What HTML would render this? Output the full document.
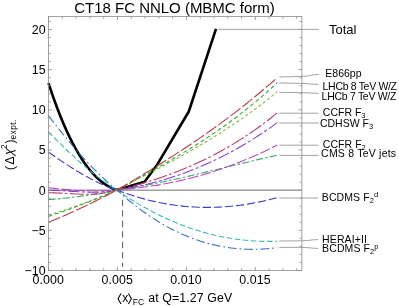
<!DOCTYPE html>
<html><head><meta charset="utf-8"><title>CT18 FC NNLO</title>
<style>
html,body{margin:0;padding:0;background:#fff;}
body{width:399px;height:306px;overflow:hidden;}
svg{display:block;will-change:transform;}
svg text{font-family:"Liberation Sans",sans-serif;fill:#000;}
</style></head><body>
<svg width="399" height="306" viewBox="0 0 399 306">
<rect width="399" height="306" fill="#fff"/>
<line x1="48.5" y1="190.17" x2="301.9" y2="190.17" stroke="#707070" stroke-width="1"/>
<line x1="122.6" y1="199.8" x2="122.6" y2="266.8" stroke="#555" stroke-width="1" stroke-dasharray="6.3 4.17"/>
<path d="M218.5,29.4 L302,29.4 C309,29.4 311.8,29.4 318.8,29.4" fill="none" stroke="#999" stroke-width="0.9"/>
<path d="M279.3,77.0 L302,76.4 C309,76.4 311.6,74.5 318.6,74.5" fill="none" stroke="#999" stroke-width="0.9"/>
<path d="M279.3,83.0 L302,83.4 C309,83.4 311.6,84.4 318.6,84.4" fill="none" stroke="#999" stroke-width="0.9"/>
<path d="M279.3,92.3 L302,92.7 C309,92.7 311.6,93.3 318.6,93.3" fill="none" stroke="#999" stroke-width="0.9"/>
<path d="M279.3,113.2 L302,113.2 C309,113.2 311.5,113.2 318.5,113.2" fill="none" stroke="#999" stroke-width="0.9"/>
<path d="M279.3,123.0 L302,123.0 C309,123.0 311.8,123.0 318.8,123.0" fill="none" stroke="#999" stroke-width="0.9"/>
<path d="M279.3,145.2 L302,145.2 C309,145.2 311.5,145.2 318.5,145.2" fill="none" stroke="#999" stroke-width="0.9"/>
<path d="M279.3,155.4 L302,155.4 C309,155.4 311.5,155.4 318.5,155.4" fill="none" stroke="#999" stroke-width="0.9"/>
<path d="M279.3,198.0 L302,198.0 C309,198.0 311.2,198.0 318.2,198.0" fill="none" stroke="#999" stroke-width="0.9"/>
<path d="M279.3,241.0 L302,240.8 C309,240.8 311.2,239.6 318.2,239.6" fill="none" stroke="#999" stroke-width="0.9"/>
<path d="M279.3,247.4 L302,247.4 C309,247.4 311.2,248.4 318.2,248.4" fill="none" stroke="#999" stroke-width="0.9"/>
<g fill="none" stroke-linejoin="round">
<polyline points="48.5,83.19 51.5,92.19 54.5,100.73 57.5,108.82 60.5,116.47 63.5,123.69 66.5,130.49 69.5,136.87 72.5,142.85 75.5,148.43 78.5,153.63 81.5,158.46 84.5,162.91 87.5,167.0 90.5,170.75 93.5,174.15 96.5,177.22 99.5,179.97 102.5,182.4 105.5,184.53 108.5,186.37 111.5,187.91 114.5,189.18 116.9,190.0 144.6,181.8 157.5,164.2 188.8,111.5 216.0,28.9" stroke="#000000" stroke-width="2.6"/>
<polyline points="48.5,152.09 51.5,154.21 54.5,156.31 57.5,158.38 60.5,160.42 63.5,162.43 66.5,164.41 69.5,166.35 72.5,168.25 75.5,170.11 78.5,171.93 81.5,173.7 84.5,175.41 87.5,177.08 90.5,178.68 93.5,180.23 96.5,181.72 99.5,183.14 102.5,184.5 105.5,185.79 108.5,187.0 111.5,188.14 114.5,189.21 116.9,190.0 119.9,191.15 122.9,192.25 125.9,193.32 128.9,194.35 131.9,195.33 134.9,196.28 137.9,197.19 140.9,198.06 143.9,198.89 146.9,199.68 149.9,200.43 152.9,201.14 155.9,201.81 158.9,202.45 161.9,203.04 164.9,203.6 167.9,204.12 170.9,204.6 173.9,205.04 176.9,205.44 179.9,205.81 182.9,206.14 185.9,206.43 188.9,206.68 191.9,206.89 194.9,207.07 197.9,207.21 200.9,207.31 203.9,207.37 206.9,207.4 209.9,207.39 212.9,207.34 215.9,207.25 218.9,207.13 221.9,206.97 224.9,206.78 227.9,206.54 230.9,206.28 233.9,205.97 236.9,205.63 239.9,205.25 242.9,204.84 245.9,204.39 248.9,203.9 251.9,203.38 254.9,202.82 257.9,202.23 260.9,201.6 263.9,200.94 266.9,200.24 269.9,199.5 272.9,198.73 275.9,197.92 277.3,197.54" stroke="#3e3ec2" stroke-width="1.08" stroke-dasharray="8.3 2.8"/>
<polyline points="48.5,131.93 51.5,134.98 54.5,138.0 57.5,140.99 60.5,143.95 63.5,146.87 66.5,149.76 69.5,152.6 72.5,155.4 75.5,158.16 78.5,160.87 81.5,163.52 84.5,166.12 87.5,168.66 90.5,171.15 93.5,173.57 96.5,175.92 99.5,178.21 102.5,180.43 105.5,182.57 108.5,184.64 111.5,186.63 114.5,188.54 116.9,190.0 119.9,192.08 122.9,194.12 125.9,196.11 128.9,198.05 131.9,199.95 134.9,201.8 137.9,203.61 140.9,205.37 143.9,207.09 146.9,208.77 149.9,210.39 152.9,211.98 155.9,213.52 158.9,215.02 161.9,216.47 164.9,217.89 167.9,219.25 170.9,220.58 173.9,221.86 176.9,223.1 179.9,224.3 182.9,225.45 185.9,226.56 188.9,227.64 191.9,228.66 194.9,229.65 197.9,230.6 200.9,231.5 203.9,232.37 206.9,233.19 209.9,233.97 212.9,234.72 215.9,235.42 218.9,236.08 221.9,236.7 224.9,237.29 227.9,237.83 230.9,238.33 233.9,238.8 236.9,239.23 239.9,239.61 242.9,239.96 245.9,240.27 248.9,240.55 251.9,240.78 254.9,240.98 257.9,241.14 260.9,241.26 263.9,241.34 266.9,241.39 269.9,241.4 272.9,241.38 275.9,241.31 277.3,241.27" stroke="#37b8b0" stroke-width="1.08" stroke-dasharray="5.6 2.5"/>
<polyline points="48.5,115.81 51.5,119.67 54.5,123.5 57.5,127.29 60.5,131.04 63.5,134.74 66.5,138.4 69.5,142.0 72.5,145.55 75.5,149.04 78.5,152.47 81.5,155.84 84.5,159.15 87.5,162.39 90.5,165.56 93.5,168.66 96.5,171.68 99.5,174.62 102.5,177.48 105.5,180.26 108.5,182.95 111.5,185.55 114.5,188.06 116.9,190.0 119.9,192.72 122.9,195.38 125.9,197.96 128.9,200.48 131.9,202.92 134.9,205.3 137.9,207.61 140.9,209.86 143.9,212.03 146.9,214.14 149.9,216.19 152.9,218.17 155.9,220.08 158.9,221.93 161.9,223.72 164.9,225.44 167.9,227.1 170.9,228.69 173.9,230.22 176.9,231.69 179.9,233.1 182.9,234.44 185.9,235.73 188.9,236.95 191.9,238.12 194.9,239.22 197.9,240.26 200.9,241.25 203.9,242.18 206.9,243.04 209.9,243.85 212.9,244.61 215.9,245.3 218.9,245.94 221.9,246.52 224.9,247.05 227.9,247.52 230.9,247.94 233.9,248.3 236.9,248.61 239.9,248.86 242.9,249.06 245.9,249.21 248.9,249.3 251.9,249.35 254.9,249.34 257.9,249.28 260.9,249.16 263.9,249.0 266.9,248.79 269.9,248.53 272.9,248.21 275.9,247.85 277.3,247.67" stroke="#3572c0" stroke-width="1.08" stroke-dasharray="8.6 3 1.7 3"/>
<polyline points="48.5,199.6 51.5,199.38 54.5,199.14 57.5,198.88 60.5,198.6 63.5,198.3 66.5,197.99 69.5,197.66 72.5,197.31 75.5,196.94 78.5,196.55 81.5,196.15 84.5,195.73 87.5,195.28 90.5,194.83 93.5,194.35 96.5,193.85 99.5,193.34 102.5,192.81 105.5,192.26 108.5,191.69 111.5,191.1 114.5,190.5 116.9,190.0 119.9,189.57 122.9,189.13 125.9,188.67 128.9,188.2 131.9,187.71 134.9,187.2 137.9,186.68 140.9,186.15 143.9,185.6 146.9,185.04 149.9,184.47 152.9,183.89 155.9,183.29 158.9,182.68 161.9,182.06 164.9,181.44 167.9,180.8 170.9,180.15 173.9,179.5 176.9,178.83 179.9,178.16 182.9,177.48 185.9,176.8 188.9,176.11 191.9,175.41 194.9,174.71 197.9,174.0 200.9,173.29 203.9,172.57 206.9,171.85 209.9,171.13 212.9,170.41 215.9,169.68 218.9,168.96 221.9,168.23 224.9,167.5 227.9,166.77 230.9,166.04 233.9,165.32 236.9,164.59 239.9,163.87 242.9,163.15 245.9,162.43 248.9,161.72 251.9,161.01 254.9,160.3 257.9,159.6 260.9,158.9 263.9,158.21 266.9,157.53 269.9,156.86 272.9,156.19 275.9,155.52 277.3,155.22" stroke="#33ae64" stroke-width="1.08" stroke-dasharray="7.2 2.2 2.5 2.2"/>
<polyline points="48.5,187.6 51.5,188.0 54.5,188.38 57.5,188.74 60.5,189.06 63.5,189.36 66.5,189.63 69.5,189.87 72.5,190.08 75.5,190.27 78.5,190.43 81.5,190.56 84.5,190.66 87.5,190.73 90.5,190.78 93.5,190.8 96.5,190.79 99.5,190.76 102.5,190.69 105.5,190.6 108.5,190.48 111.5,190.33 114.5,190.16 116.9,190.0 119.9,189.77 122.9,189.52 125.9,189.24 128.9,188.95 131.9,188.64 134.9,188.3 137.9,187.95 140.9,187.57 143.9,187.17 146.9,186.75 149.9,186.31 152.9,185.84 155.9,185.36 158.9,184.85 161.9,184.32 164.9,183.76 167.9,183.19 170.9,182.59 173.9,181.97 176.9,181.32 179.9,180.65 182.9,179.96 185.9,179.24 188.9,178.5 191.9,177.73 194.9,176.94 197.9,176.13 200.9,175.29 203.9,174.43 206.9,173.54 209.9,172.62 212.9,171.68 215.9,170.72 218.9,169.73 221.9,168.71 224.9,167.67 227.9,166.6 230.9,165.5 233.9,164.38 236.9,163.23 239.9,162.06 242.9,160.85 245.9,159.62 248.9,158.36 251.9,157.08 254.9,155.76 257.9,154.42 260.9,153.05 263.9,151.66 266.9,150.23 269.9,148.77 272.9,147.29 275.9,145.78 277.3,145.06" stroke="#c144c1" stroke-width="1.08" stroke-dasharray="10.3 2.5"/>
<polyline points="48.5,190.2 51.5,190.25 54.5,190.34 57.5,190.46 60.5,190.62 63.5,190.79 66.5,190.98 69.5,191.17 72.5,191.37 75.5,191.56 78.5,191.73 81.5,191.89 84.5,192.02 87.5,192.12 90.5,192.19 93.5,192.2 96.5,192.16 99.5,192.07 102.5,191.9 105.5,191.67 108.5,191.36 111.5,190.96 114.5,190.46 116.9,190.0 119.9,189.55 122.9,189.07 125.9,188.57 128.9,188.04 131.9,187.48 134.9,186.89 137.9,186.27 140.9,185.63 143.9,184.95 146.9,184.25 149.9,183.52 152.9,182.76 155.9,181.97 158.9,181.15 161.9,180.3 164.9,179.42 167.9,178.51 170.9,177.56 173.9,176.59 176.9,175.59 179.9,174.55 182.9,173.49 185.9,172.39 188.9,171.26 191.9,170.1 194.9,168.9 197.9,167.67 200.9,166.42 203.9,165.12 206.9,163.8 209.9,162.44 212.9,161.05 215.9,159.62 218.9,158.16 221.9,156.66 224.9,155.14 227.9,153.57 230.9,151.97 233.9,150.34 236.9,148.67 239.9,146.97 242.9,145.23 245.9,143.45 248.9,141.64 251.9,139.79 254.9,137.91 257.9,135.99 260.9,134.03 263.9,132.03 266.9,130.0 269.9,127.93 272.9,125.82 275.9,123.68 277.3,122.66" stroke="#7d41cc" stroke-width="1.08" stroke-dasharray="11.5 2.5 3 2.5"/>
<polyline points="48.5,192.79 51.5,192.8 54.5,192.86 57.5,192.96 60.5,193.09 63.5,193.25 66.5,193.42 69.5,193.59 72.5,193.77 75.5,193.93 78.5,194.06 81.5,194.17 84.5,194.24 87.5,194.26 90.5,194.22 93.5,194.12 96.5,193.94 99.5,193.67 102.5,193.31 105.5,192.85 108.5,192.28 111.5,191.58 114.5,190.76 116.9,190.0 119.9,189.29 122.9,188.55 125.9,187.8 128.9,187.03 131.9,186.24 134.9,185.43 137.9,184.6 140.9,183.75 143.9,182.88 146.9,181.98 149.9,181.06 152.9,180.12 155.9,179.15 158.9,178.16 161.9,177.14 164.9,176.1 167.9,175.03 170.9,173.93 173.9,172.8 176.9,171.65 179.9,170.47 182.9,169.26 185.9,168.02 188.9,166.74 191.9,165.44 194.9,164.11 197.9,162.74 200.9,161.34 203.9,159.9 206.9,158.44 209.9,156.93 212.9,155.4 215.9,153.82 218.9,152.21 221.9,150.57 224.9,148.88 227.9,147.16 230.9,145.4 233.9,143.6 236.9,141.76 239.9,139.88 242.9,137.96 245.9,135.99 248.9,133.99 251.9,131.94 254.9,129.85 257.9,127.71 260.9,125.53 263.9,123.31 266.9,121.04 269.9,118.72 272.9,116.36 275.9,113.95 277.3,112.81" stroke="#b9376c" stroke-width="1.08" stroke-dasharray="14 2.3 2.6 2.5"/>
<polyline points="48.5,215.2 51.5,214.27 54.5,213.33 57.5,212.37 60.5,211.39 63.5,210.4 66.5,209.39 69.5,208.36 72.5,207.32 75.5,206.27 78.5,205.19 81.5,204.1 84.5,202.99 87.5,201.87 90.5,200.73 93.5,199.58 96.5,198.4 99.5,197.21 102.5,196.01 105.5,194.79 108.5,193.55 111.5,192.3 114.5,191.03 116.9,190.0 119.9,188.44 122.9,186.88 125.9,185.33 128.9,183.77 131.9,182.22 134.9,180.66 137.9,179.11 140.9,177.55 143.9,175.99 146.9,174.43 149.9,172.86 152.9,171.28 155.9,169.71 158.9,168.12 161.9,166.53 164.9,164.93 167.9,163.32 170.9,161.7 173.9,160.07 176.9,158.43 179.9,156.77 182.9,155.11 185.9,153.43 188.9,151.73 191.9,150.03 194.9,148.3 197.9,146.56 200.9,144.8 203.9,143.02 206.9,141.23 209.9,139.41 212.9,137.58 215.9,135.72 218.9,133.84 221.9,131.94 224.9,130.01 227.9,128.06 230.9,126.08 233.9,124.08 236.9,122.05 239.9,120.0 242.9,117.91 245.9,115.8 248.9,113.66 251.9,111.48 254.9,109.28 257.9,107.04 260.9,104.77 263.9,102.47 266.9,100.13 269.9,97.76 272.9,95.35 275.9,92.9 277.3,91.75" stroke="#86bc34" stroke-width="1.08" stroke-dasharray="3 2.4"/>
<polyline points="48.5,216.39 51.5,215.4 54.5,214.4 57.5,213.39 60.5,212.35 63.5,211.31 66.5,210.24 69.5,209.16 72.5,208.07 75.5,206.96 78.5,205.83 81.5,204.69 84.5,203.53 87.5,202.35 90.5,201.16 93.5,199.96 96.5,198.73 99.5,197.5 102.5,196.24 105.5,194.97 108.5,193.69 111.5,192.38 114.5,191.07 116.9,190.0 119.9,188.36 122.9,186.73 125.9,185.1 128.9,183.46 131.9,181.83 134.9,180.19 137.9,178.55 140.9,176.91 143.9,175.26 146.9,173.6 149.9,171.94 152.9,170.27 155.9,168.59 158.9,166.9 161.9,165.21 164.9,163.5 167.9,161.78 170.9,160.04 173.9,158.29 176.9,156.53 179.9,154.75 182.9,152.95 185.9,151.14 188.9,149.31 191.9,147.46 194.9,145.58 197.9,143.69 200.9,141.77 203.9,139.83 206.9,137.87 209.9,135.88 212.9,133.87 215.9,131.83 218.9,129.76 221.9,127.66 224.9,125.54 227.9,123.38 230.9,121.19 233.9,118.97 236.9,116.72 239.9,114.43 242.9,112.11 245.9,109.75 248.9,107.35 251.9,104.92 254.9,102.45 257.9,99.94 260.9,97.39 263.9,94.8 266.9,92.16 269.9,89.48 272.9,86.76 275.9,83.99 277.3,82.69" stroke="#30aa3c" stroke-width="1.08" stroke-dasharray="4 2.8"/>
<polyline points="48.5,222.3 51.5,221.07 54.5,219.83 57.5,218.56 60.5,217.28 63.5,215.99 66.5,214.67 69.5,213.34 72.5,211.99 75.5,210.62 78.5,209.24 81.5,207.84 84.5,206.42 87.5,204.98 90.5,203.53 93.5,202.06 96.5,200.57 99.5,199.07 102.5,197.55 105.5,196.01 108.5,194.45 111.5,192.88 114.5,191.29 116.9,190.0 119.9,188.25 122.9,186.49 125.9,184.73 128.9,182.96 131.9,181.19 134.9,179.4 137.9,177.61 140.9,175.81 143.9,174.0 146.9,172.18 149.9,170.36 152.9,168.52 155.9,166.67 158.9,164.81 161.9,162.94 164.9,161.05 167.9,159.16 170.9,157.25 173.9,155.33 176.9,153.39 179.9,151.44 182.9,149.48 185.9,147.5 188.9,145.5 191.9,143.49 194.9,141.46 197.9,139.42 200.9,137.36 203.9,135.28 206.9,133.18 209.9,131.06 212.9,128.92 215.9,126.77 218.9,124.59 221.9,122.4 224.9,120.18 227.9,117.94 230.9,115.68 233.9,113.4 236.9,111.09 239.9,108.76 242.9,106.41 245.9,104.03 248.9,101.63 251.9,99.2 254.9,96.75 257.9,94.27 260.9,91.77 263.9,89.24 266.9,86.68 269.9,84.09 272.9,81.48 275.9,78.84 277.3,77.59" stroke="#bb3841" stroke-width="1.08" stroke-dasharray="12.5 2.6"/>
</g>
<rect x="48.5" y="16.5" width="253.40" height="254.0" fill="none" stroke="#8a8a8a" stroke-width="0.8"/>
<path d="M48.55,270.5v-3.5M48.55,16.5v3.5M62.33,270.5v-2.3M62.33,16.5v2.3M76.12,270.5v-2.3M76.12,16.5v2.3M89.91,270.5v-2.3M89.91,16.5v2.3M103.69,270.5v-2.3M103.69,16.5v2.3M117.47,270.5v-3.5M117.47,16.5v3.5M131.26,270.5v-2.3M131.26,16.5v2.3M145.05,270.5v-2.3M145.05,16.5v2.3M158.83,270.5v-2.3M158.83,16.5v2.3M172.62,270.5v-2.3M172.62,16.5v2.3M186.40,270.5v-3.5M186.40,16.5v3.5M200.19,270.5v-2.3M200.19,16.5v2.3M213.97,270.5v-2.3M213.97,16.5v2.3M227.75,270.5v-2.3M227.75,16.5v2.3M241.54,270.5v-2.3M241.54,16.5v2.3M255.32,270.5v-3.5M255.32,16.5v3.5M269.11,270.5v-2.3M269.11,16.5v2.3M282.89,270.5v-2.3M282.89,16.5v2.3M296.68,270.5v-2.3M296.68,16.5v2.3M48.5,270.50h3.5M301.9,270.50h-3.5M48.5,262.47h2.3M301.9,262.47h-2.3M48.5,254.43h2.3M301.9,254.43h-2.3M48.5,246.40h2.3M301.9,246.40h-2.3M48.5,238.37h2.3M301.9,238.37h-2.3M48.5,230.33h3.5M301.9,230.33h-3.5M48.5,222.30h2.3M301.9,222.30h-2.3M48.5,214.27h2.3M301.9,214.27h-2.3M48.5,206.24h2.3M301.9,206.24h-2.3M48.5,198.20h2.3M301.9,198.20h-2.3M48.5,190.17h3.5M301.9,190.17h-3.5M48.5,182.14h2.3M301.9,182.14h-2.3M48.5,174.10h2.3M301.9,174.10h-2.3M48.5,166.07h2.3M301.9,166.07h-2.3M48.5,158.04h2.3M301.9,158.04h-2.3M48.5,150.00h3.5M301.9,150.00h-3.5M48.5,141.97h2.3M301.9,141.97h-2.3M48.5,133.94h2.3M301.9,133.94h-2.3M48.5,125.91h2.3M301.9,125.91h-2.3M48.5,117.87h2.3M301.9,117.87h-2.3M48.5,109.84h3.5M301.9,109.84h-3.5M48.5,101.81h2.3M301.9,101.81h-2.3M48.5,93.77h2.3M301.9,93.77h-2.3M48.5,85.74h2.3M301.9,85.74h-2.3M48.5,77.71h2.3M301.9,77.71h-2.3M48.5,69.67h3.5M301.9,69.67h-3.5M48.5,61.64h2.3M301.9,61.64h-2.3M48.5,53.61h2.3M301.9,53.61h-2.3M48.5,45.58h2.3M301.9,45.58h-2.3M48.5,37.54h2.3M301.9,37.54h-2.3M48.5,29.51h3.5M301.9,29.51h-3.5M48.5,21.48h2.3M301.9,21.48h-2.3" stroke="#8a8a8a" stroke-width="0.8" fill="none"/>
<text x="48.25" y="283.8" font-size="12.4" letter-spacing="0.1" text-anchor="middle">0.000</text>
<text x="117.17" y="283.8" font-size="12.4" letter-spacing="0.1" text-anchor="middle">0.005</text>
<text x="186.10" y="283.8" font-size="12.4" letter-spacing="0.1" text-anchor="middle">0.010</text>
<text x="255.02" y="283.8" font-size="12.4" letter-spacing="0.1" text-anchor="middle">0.015</text>
<text x="45.8" y="33.91" font-size="12.4" letter-spacing="0.1" text-anchor="end">20</text>
<text x="45.8" y="74.08" font-size="12.4" letter-spacing="0.1" text-anchor="end">15</text>
<text x="45.8" y="114.24" font-size="12.4" letter-spacing="0.1" text-anchor="end">10</text>
<text x="45.8" y="154.41" font-size="12.4" letter-spacing="0.1" text-anchor="end">5</text>
<text x="45.8" y="194.57" font-size="12.4" letter-spacing="0.1" text-anchor="end">0</text>
<text x="45.8" y="234.73" font-size="12.4" letter-spacing="0.1" text-anchor="end">−5</text>
<text x="45.8" y="274.90" font-size="12.4" letter-spacing="0.1" text-anchor="end">−10</text>
<text x="74.3" y="13.2" font-size="15" textLength="200.4" lengthAdjust="spacing">CT18 FC NNLO (MBMC form)</text>
<path d="M121.0,293.4 L118.0,298.7 L121.0,304.0 M128.4,293.4 L131.4,298.7 L128.4,304.0" fill="none" stroke="#000" stroke-width="1.05"/>
<text x="122.2" y="302.1" font-size="12">x</text>
<text x="132.8" y="304.6" font-size="8.5">FC</text>
<text x="148.2" y="302.1" font-size="12.3" textLength="84" lengthAdjust="spacing">at Q=1.27 GeV</text>
<g transform="translate(14.0,169.4) rotate(-90)">
<text x="-0.5" y="0" font-size="12">(</text>
<text x="5.0" y="0" font-size="12" textLength="8.2" lengthAdjust="spacingAndGlyphs">Δ</text>
<text transform="translate(13.4,-0.8) skewX(-12)" font-size="13">χ</text>
<text x="20.3" y="-6.6" font-size="8.5">2</text>
<text x="25.8" y="0" font-size="12">)</text>
<text x="30.0" y="1.9" font-size="8.3" textLength="19.6" lengthAdjust="spacing">expt.</text>
</g>
<text x="329.0" y="34.1" font-size="13">Total</text>
<text x="325.3" y="77.2" font-size="10.5">E866pp</text>
<text x="322.6" y="89.8" font-size="10.5" letter-spacing="-0.32">LHCb 8 TeV W/Z</text>
<text x="321.6" y="100.3" font-size="10.5" letter-spacing="-0.29">LHCb 7 TeV W/Z</text>
<text x="322.8" y="115.95" font-size="10.5">CCFR F<tspan dy="2" font-size="7.5">3</tspan></text>
<text x="319.9" y="127.2" font-size="10.5">CDHSW F<tspan dy="2" font-size="7.5">3</tspan></text>
<text x="322.8" y="147.95" font-size="10.5" letter-spacing="0.05">CCFR F<tspan dy="2" font-size="7.5">2</tspan></text>
<text x="321.1" y="157.3" font-size="10.5" letter-spacing="0.22">CMS 8 TeV jets</text>
<text x="321.8" y="201.25" font-size="10.5" letter-spacing="0.1">BCDMS F<tspan dy="2" font-size="7.5">2</tspan><tspan dy="-6" font-size="7.5">d</tspan></text>
<text x="322.1" y="242.6" font-size="10.5" letter-spacing="0.11">HERAI+II</text>
<text x="322.1" y="251.9" font-size="10.5" letter-spacing="0.1">BCDMS F<tspan dy="2" font-size="7.5">2</tspan><tspan dy="-5.2" font-size="7.5">p</tspan></text>
</svg>
</body></html>
